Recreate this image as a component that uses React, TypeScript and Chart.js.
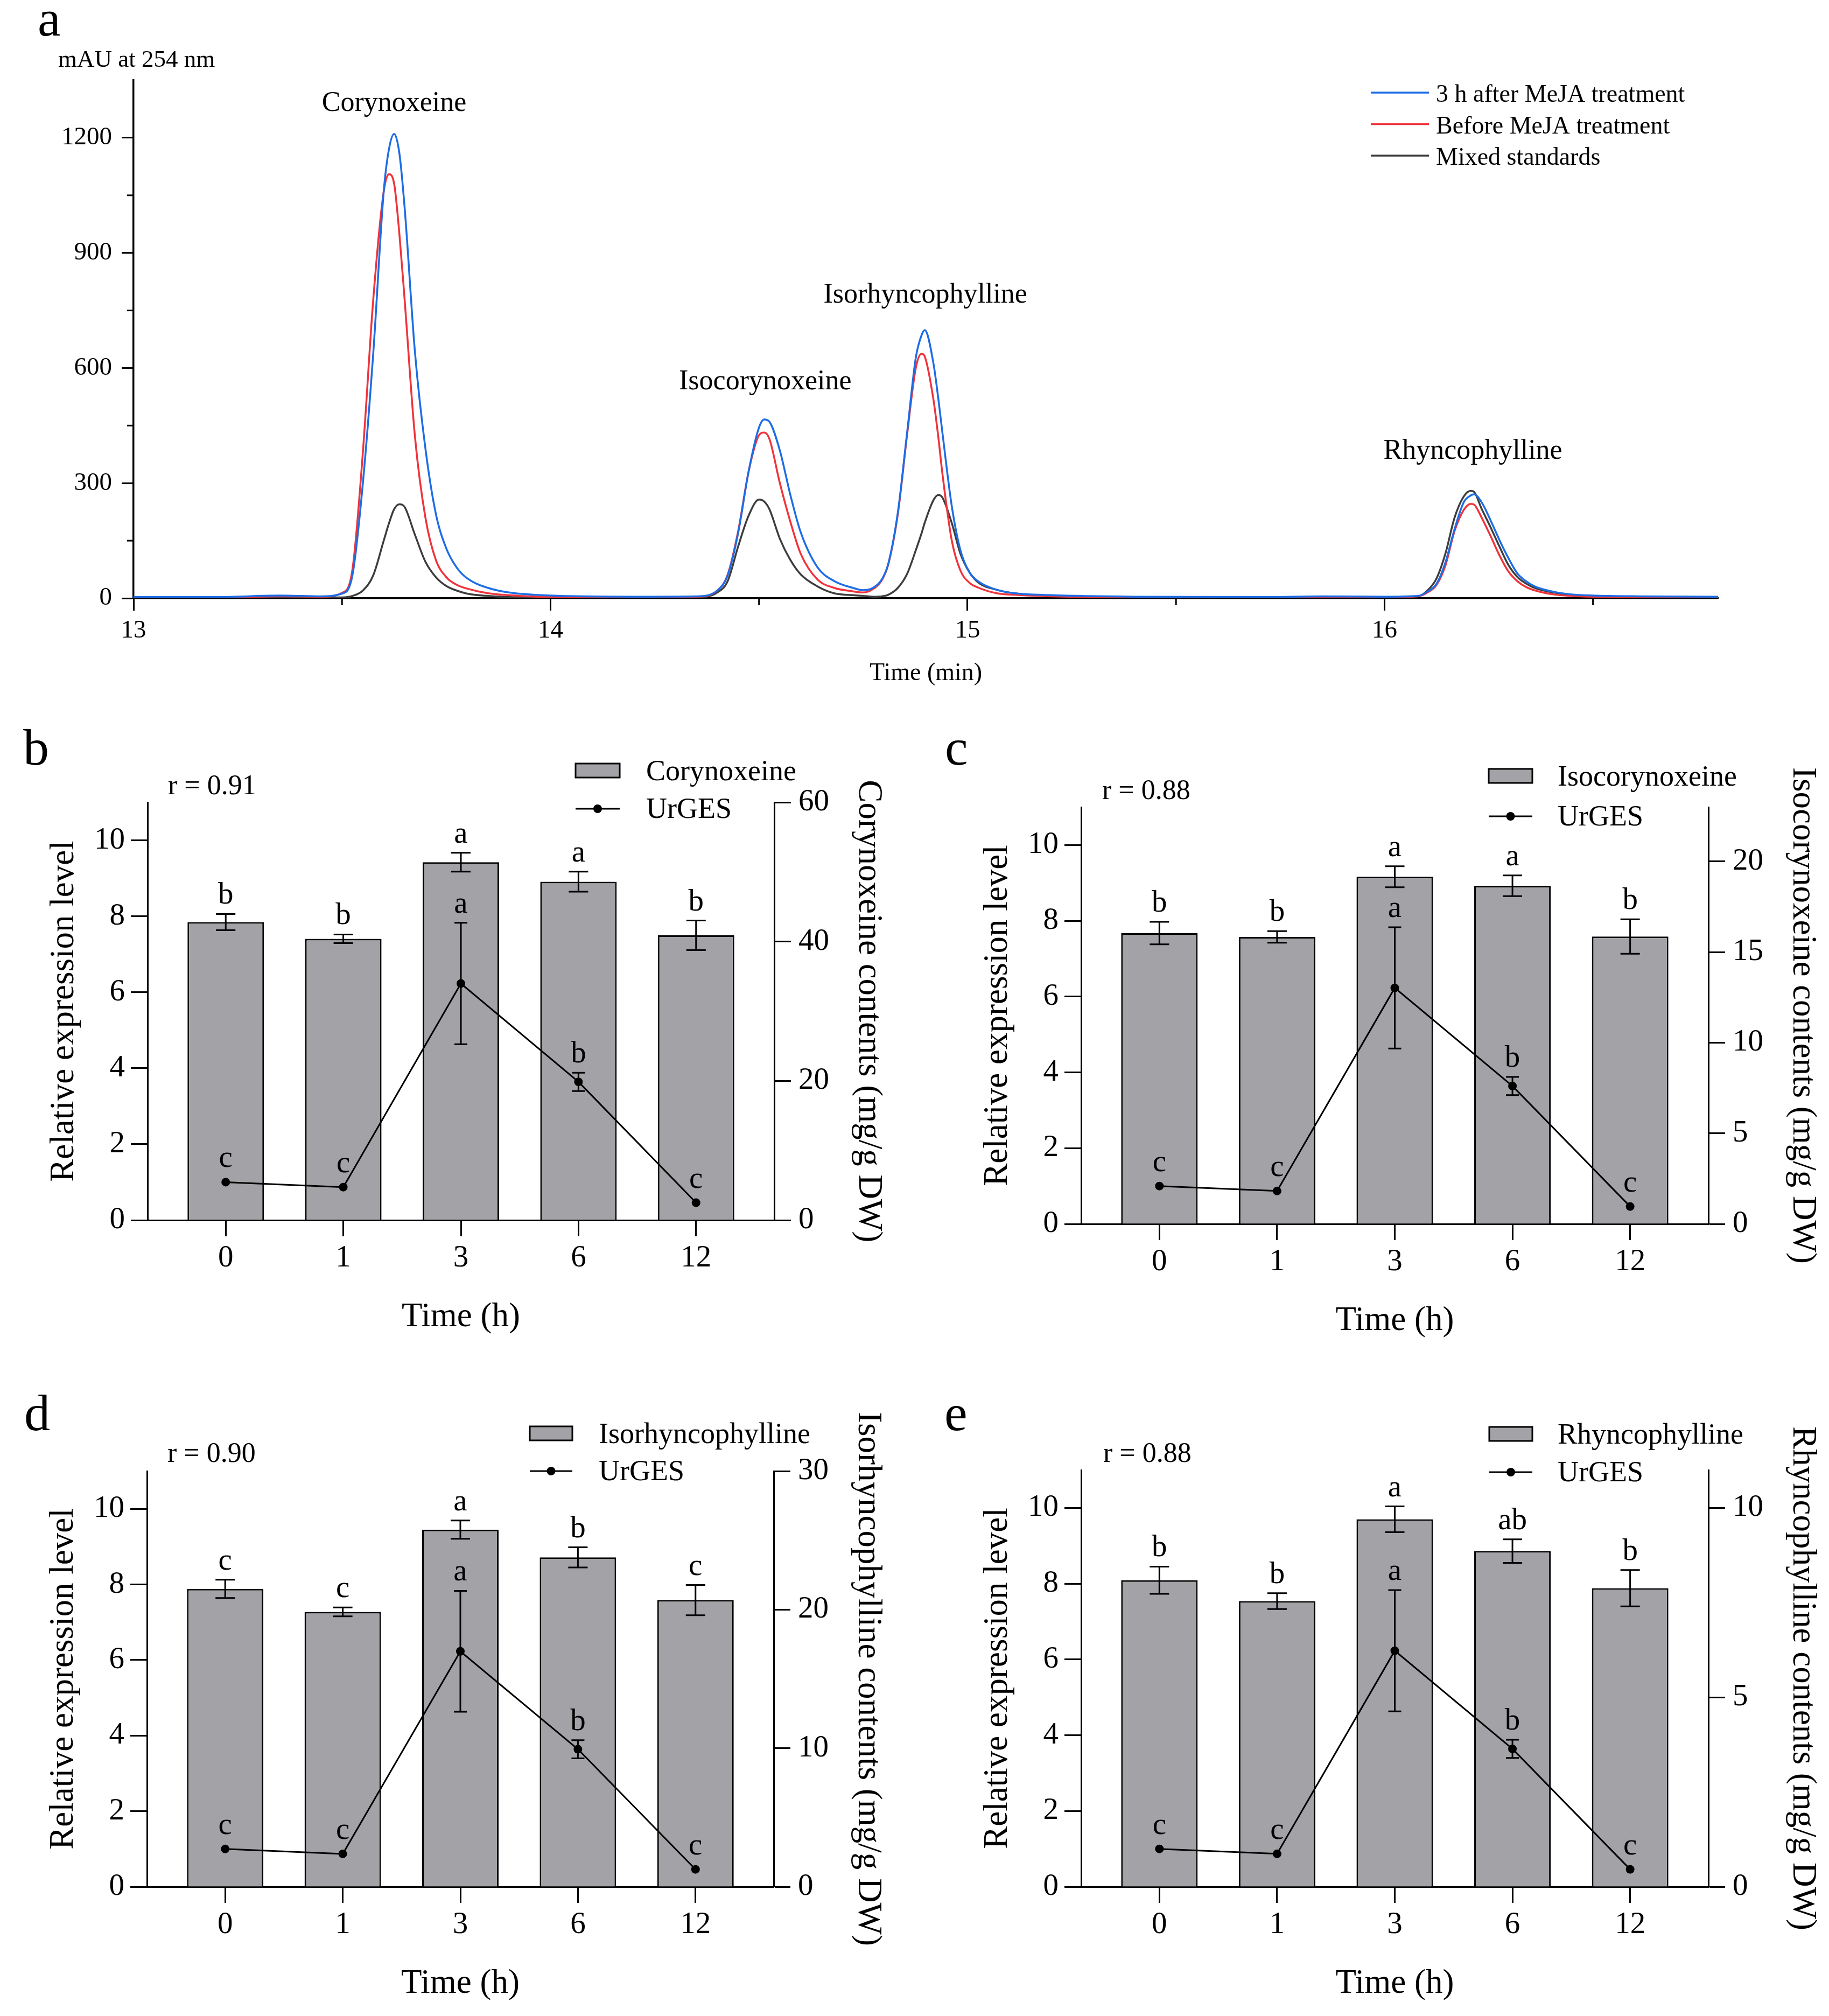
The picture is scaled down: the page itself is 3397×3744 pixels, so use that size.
import React, { useEffect, useRef } from 'react';
import { Chart, registerables } from 'chart.js';

Chart.register(...registerables);

const SERIF = '"Liberation Serif", "Times New Roman", Times, serif';
const INK = '#000000';

// ---------------- Panel a : HPLC chromatogram ----------------
const retentionTimes = [
  13.0, 13.2, 13.35, 13.45, 13.5, 13.525, 13.55, 13.575, 13.6, 13.6125,
  13.625, 13.6375, 13.65, 13.675, 13.7, 13.725, 13.75, 13.775, 13.8, 13.85,
  13.9, 14.0, 14.2, 14.35, 14.4, 14.425, 14.45, 14.475, 14.5, 14.5125,
  14.525, 14.55, 14.575, 14.6, 14.64, 14.68, 14.725, 14.75, 14.775, 14.795,
  14.81, 14.833, 14.855, 14.876, 14.89, 14.8975, 14.918, 14.93, 14.94, 14.962,
  14.983, 15.005, 15.027, 15.07, 15.113, 15.2, 15.4, 15.7, 15.85, 16.0,
  16.08, 16.103, 16.125, 16.146, 16.168, 16.19, 16.207, 16.215, 16.233, 16.254,
  16.276, 16.297, 16.319, 16.34, 16.362, 16.405, 16.448, 16.5, 16.62, 16.8,
];
const afterMeJA = [
  3, 3, 7, 5, 12, 60, 300, 640, 1060, 1170,
  1210, 1160, 1020, 640, 390, 220, 130, 80, 52, 27,
  15, 7, 4, 5, 20, 60, 170, 330, 445, 466,
  460, 385, 270, 172, 81, 45, 27, 21, 28, 50,
  90, 224, 430, 627, 686, 699, 614, 520, 430, 242,
  125, 67, 43, 22, 13, 8, 4, 3, 5, 4,
  6, 17, 38, 93, 180, 250, 268, 271, 250, 204,
  151, 105, 64, 44, 30, 17, 10, 7, 5, 4,
];
const beforeMeJA = [
  2, 2, 5, 4, 14, 75, 380, 780, 1060, 1105,
  1080, 950, 780, 420, 210, 100, 55, 35, 25, 13,
  8, 3, 2, 4, 20, 62, 175, 330, 425, 432,
  415, 300, 200, 116, 49, 27, 18, 15, 25, 48,
  88, 220, 425, 600, 637, 630, 520, 420, 323, 152,
  72, 40, 27, 13, 9, 5, 3, 2, 4, 3,
  5, 15, 35, 85, 175, 230, 246, 244, 210, 163,
  111, 70, 44, 29, 20, 10, 6, 4, 3, 3,
];
const mixedStandards = [
  1, 1, 3, 2, 2, 6, 20, 60, 150, 195,
  232, 245, 238, 165, 95, 55, 32, 20, 12, 6,
  3, 1, 1, 2, 15, 45, 135, 215, 257, 252,
  232, 155, 100, 62, 31, 13, 8, 6, 4, 5,
  9, 27, 63, 125, 170, 197, 255, 269, 262, 197,
  116, 67, 40, 22, 13, 6, 2, 2, 3, 3,
  5, 20, 52, 116, 210, 265, 280, 277, 233, 186,
  134, 87, 55, 38, 26, 15, 9, 6, 4, 3,
];
const traceNames = ['3 h after MeJA treatment', 'Before MeJA treatment', 'Mixed standards'];
const chromYTicks = [0, 300, 600, 900, 1200];
const chromYMinorTicks = [150, 450, 750, 1050];
const chromXTicks = [13, 14, 15, 16];
const chromXMinorTicks = [13.5, 14.5, 15.5, 16.5];
const peakNames = ['Corynoxeine', 'Isocorynoxeine', 'Isorhyncophylline', 'Rhyncophylline'];

// ---------------- Panels b–e : contents vs UrGES expression ----------------
const timePointLabels = ['0', '1', '3', '6', '12'];
const timeIndex = [0, 1, 2, 3, 4];
const urgesExpression = [1.0, 0.87, 6.23, 3.64, 0.46];
const urgesSD = [0, 0, 1.6, 0.24, 0];
const urgesLetters = ['c', 'c', 'a', 'b', 'c'];
const expressionTicks = [0, 2, 4, 6, 8, 10];

const corynoxeineContent = [42.8, 40.4, 51.4, 48.6, 40.9];
const corynoxeineSD = [1.16, 0.62, 1.36, 1.44, 2.12];
const corynoxeineLetters = ['b', 'b', 'a', 'a', 'b'];
const corynoxeineTicks = [0, 20, 40, 60];

const isocorynoxeineContent = [16.05, 15.84, 19.16, 18.66, 15.86];
const isocorynoxeineSD = [0.62, 0.32, 0.58, 0.57, 0.95];
const isocorynoxeineLetters = ['b', 'b', 'a', 'a', 'b'];
const isocorynoxeineTicks = [0, 5, 10, 15, 20];

const isorhyncophyllineContent = [21.5, 19.84, 25.77, 23.77, 20.69];
const isorhyncophyllineSD = [0.66, 0.32, 0.66, 0.73, 1.09];
const isorhyncophyllineLetters = ['c', 'c', 'a', 'b', 'c'];
const isorhyncophyllineTicks = [0, 10, 20, 30];

const rhyncophyllineContent = [8.09, 7.54, 9.7, 8.86, 7.88];
const rhyncophyllineSD = [0.36, 0.21, 0.34, 0.31, 0.48];
const rhyncophyllineLetters = ['b', 'b', 'a', 'ab', 'b'];
const rhyncophyllineTicks = [0, 5, 10];

// ---------------- styles ----------------
const traceColors = ['#1d6de6', '#f0333b', '#3d3d3d'];
const BAR_FILL = '#a2a2a7';

function font(size: number) {
  return { family: SERIF, size, lineHeight: 1.2, weight: 'normal' as const };
}

function chromatogramConfig(): any {
  const W = 3397;
  const H = 1330;
  const A = { left: 248, right: 3191, top: 149, bottom: 1111 };
  const series = [afterMeJA, beforeMeJA, mixedStandards];
  const labelAnchors = [
    { t: 13.625, v: 1270 },
    { t: 14.515, v: 545 },
    { t: 14.899, v: 770 },
    { t: 16.212, v: 364 },
  ];
  const overlay = {
    id: 'chromOverlay',
    afterDraw(chart: any) {
      const ctx = chart.ctx as CanvasRenderingContext2D;
      const xs = chart.scales.x;
      const ys = chart.scales.y;
      ctx.save();
      ctx.strokeStyle = INK;
      ctx.lineWidth = 3;
      ctx.lineCap = 'butt';
      chromYMinorTicks.forEach((v) => {
        const py = ys.getPixelForValue(v);
        ctx.beginPath();
        ctx.moveTo(A.left, py);
        ctx.lineTo(A.left - 12, py);
        ctx.stroke();
      });
      chromXMinorTicks.forEach((v) => {
        const px = xs.getPixelForValue(v);
        ctx.beginPath();
        ctx.moveTo(px, A.bottom);
        ctx.lineTo(px, A.bottom + 13);
        ctx.stroke();
      });
      ctx.fillStyle = INK;
      ctx.textBaseline = 'alphabetic';
      ctx.textAlign = 'center';
      ctx.font = `52px ${SERIF}`;
      peakNames.forEach((n, i) => {
        ctx.fillText(n, xs.getPixelForValue(labelAnchors[i].t), ys.getPixelForValue(labelAnchors[i].v));
      });
      ctx.textAlign = 'left';
      ctx.font = `46px ${SERIF}`;
      traceNames.forEach((n, i) => {
        const yy = 172 + i * 58.5;
        ctx.strokeStyle = traceColors[i];
        ctx.lineWidth = 3.5;
        ctx.beginPath();
        ctx.moveTo(2546, yy);
        ctx.lineTo(2654, yy);
        ctx.stroke();
        ctx.fillText(n, 2667, yy + 17);
      });
      ctx.font = `96px ${SERIF}`;
      ctx.fillText('a', 70, 66);
      ctx.font = `45px ${SERIF}`;
      ctx.fillText('mAU at 254 nm', 108, 124);
      ctx.restore();
    },
  };
  return {
    type: 'line',
    data: {
      datasets: series.map((s, k) => ({
        label: traceNames[k],
        data: retentionTimes.map((t, i) => ({ x: t, y: s[i] })),
        borderColor: traceColors[k],
        borderWidth: 3.5,
        pointRadius: 0,
        fill: false,
        cubicInterpolationMode: 'monotone',
      })),
    },
    options: {
      responsive: false,
      animation: false,
      devicePixelRatio: 1,
      layout: { padding: { left: 0, top: A.top, right: W - A.right, bottom: 0 } },
      plugins: { legend: { display: false }, tooltip: { enabled: false } },
      scales: {
        x: {
          type: 'linear',
          min: 13,
          max: 16.8,
          afterBuildTicks: (s: any) => {
            s.ticks = chromXTicks.map((v) => ({ value: v }));
          },
          afterFit: (s: any) => {
            s.height = H - A.bottom;
          },
          ticks: { font: font(47), color: INK, padding: 9, maxRotation: 0, autoSkip: false, callback: (v: any) => String(v) },
          grid: { drawOnChartArea: false, drawTicks: true, tickLength: 23, tickWidth: 3, tickColor: INK, color: INK },
          border: { display: true, color: INK, width: 3.5 },
          title: { display: true, text: 'Time (min)', font: font(46), color: INK, padding: { top: 0, bottom: 51 } },
        },
        y: {
          type: 'linear',
          min: 0,
          max: 1350,
          afterBuildTicks: (s: any) => {
            s.ticks = chromYTicks.map((v) => ({ value: v }));
          },
          afterFit: (s: any) => {
            s.width = A.left;
          },
          ticks: { font: font(47), color: INK, padding: 18, autoSkip: false, callback: (v: any) => String(v) },
          grid: { drawOnChartArea: false, drawTicks: true, tickLength: 22, tickWidth: 3, tickColor: INK, color: INK },
          border: { display: true, color: INK, width: 3.5 },
        },
      },
    },
    plugins: [overlay],
  };
}

type PanelSpec = {
  letter: string;
  compound: string;
  r: string;
  content: number[];
  sd: number[];
  letters: string[];
  rightTicks: number[];
  rightMax: number;
  box: { x: number; y: number; w: number; h: number };
  area: { left: number; right: number; top: number; bottom: number };
  labelAt: [number, number];
  rAt: [number, number];
  legend: { x1: number; x2: number; row1: number; row2: number; textX: number };
};

const panels: PanelSpec[] = [
  {
    letter: 'b', compound: 'Corynoxeine', r: '0.91',
    content: corynoxeineContent, sd: corynoxeineSD, letters: corynoxeineLetters,
    rightTicks: corynoxeineTicks, rightMax: 60,
    box: { x: 0, y: 1330, w: 1700, h: 1230 },
    area: { left: 274, right: 1438, top: 160, bottom: 936 },
    labelAt: [43, 90], rAt: [312, 145],
    legend: { x1: 1069, x2: 1151, row1: 101, row2: 172, textX: 1200 },
  },
  {
    letter: 'c', compound: 'Isocorynoxeine', r: '0.88',
    content: isocorynoxeineContent, sd: isocorynoxeineSD, letters: isocorynoxeineLetters,
    rightTicks: isocorynoxeineTicks, rightMax: 23,
    box: { x: 1700, y: 1330, w: 1697, h: 1230 },
    area: { left: 308, right: 1473, top: 169, bottom: 943 },
    labelAt: [55, 90], rAt: [347, 154],
    legend: { x1: 1065, x2: 1146, row1: 111, row2: 186, textX: 1193 },
  },
  {
    letter: 'd', compound: 'Isorhyncophylline', r: '0.90',
    content: isorhyncophyllineContent, sd: isorhyncophyllineSD, letters: isorhyncophyllineLetters,
    rightTicks: isorhyncophyllineTicks, rightMax: 30,
    box: { x: 0, y: 2560, w: 1700, h: 1184 },
    area: { left: 273, right: 1437, top: 172, bottom: 944 },
    labelAt: [45, 96], rAt: [311, 155],
    legend: { x1: 984, x2: 1063, row1: 102, row2: 172, textX: 1112 },
  },
  {
    letter: 'e', compound: 'Rhyncophylline', r: '0.88',
    content: rhyncophyllineContent, sd: rhyncophyllineSD, letters: rhyncophyllineLetters,
    rightTicks: rhyncophyllineTicks, rightMax: 11,
    box: { x: 1700, y: 2560, w: 1697, h: 1184 },
    area: { left: 308, right: 1473, top: 170, bottom: 944 },
    labelAt: [54, 96], rAt: [349, 155],
    legend: { x1: 1066, x2: 1146, row1: 103, row2: 174, textX: 1193 },
  },
];

function barPanelConfig(p: PanelSpec): any {
  const W = p.box.w;
  const H = p.box.h;
  const A = p.area;
  const halfTitle = (63 * 1.2) / 2;

  const drawErrors = (
    chart: any,
    dsIndex: number,
    axisId: string,
    values: number[],
    sd: number[],
    letters: string[],
    capHalf: number,
  ) => {
    const ctx = chart.ctx as CanvasRenderingContext2D;
    const meta = chart.getDatasetMeta(dsIndex);
    const scale = chart.scales[axisId];
    meta.data.forEach((el: any, i: number) => {
      const x = el.x;
      const v = values[i];
      const e = sd[i];
      const yTop = scale.getPixelForValue(v + e);
      const yBot = scale.getPixelForValue(v - e);
      if (e > 0) {
        ctx.beginPath();
        ctx.moveTo(x, yTop);
        ctx.lineTo(x, yBot);
        ctx.moveTo(x - capHalf, yTop);
        ctx.lineTo(x + capHalf, yTop);
        ctx.moveTo(x - capHalf, yBot);
        ctx.lineTo(x + capHalf, yBot);
        ctx.stroke();
      }
      const baseY = e > 0 ? yTop - 19 : scale.getPixelForValue(v) - 28;
      ctx.fillText(letters[i], x, baseY);
    });
  };

  const overlay = {
    id: 'panelOverlay',
    afterDatasetsDraw(chart: any) {
      const ctx = chart.ctx as CanvasRenderingContext2D;
      ctx.save();
      ctx.strokeStyle = INK;
      ctx.fillStyle = INK;
      ctx.lineWidth = 3;
      ctx.lineCap = 'butt';
      ctx.font = `57px ${SERIF}`;
      ctx.textAlign = 'center';
      ctx.textBaseline = 'alphabetic';
      drawErrors(chart, 1, 'yR', p.content, p.sd, p.letters, 18);
      drawErrors(chart, 0, 'y', urgesExpression, urgesSD, urgesLetters, 12);
      ctx.restore();
    },
    afterDraw(chart: any) {
      const ctx = chart.ctx as CanvasRenderingContext2D;
      const L = p.legend;
      ctx.save();
      ctx.fillStyle = INK;
      ctx.textAlign = 'left';
      ctx.textBaseline = 'alphabetic';
      ctx.font = `96px ${SERIF}`;
      ctx.fillText(p.letter, p.labelAt[0], p.labelAt[1]);
      ctx.font = `52px ${SERIF}`;
      ctx.fillText(`r = ${p.r}`, p.rAt[0], p.rAt[1]);
      // legend: bars
      ctx.fillStyle = BAR_FILL;
      ctx.fillRect(L.x1, L.row1 - 13, L.x2 - L.x1, 26);
      ctx.strokeStyle = INK;
      ctx.lineWidth = 3;
      ctx.strokeRect(L.x1, L.row1 - 13, L.x2 - L.x1, 26);
      // legend: line
      ctx.beginPath();
      ctx.moveTo(L.x1, L.row2);
      ctx.lineTo(L.x2, L.row2);
      ctx.stroke();
      ctx.fillStyle = INK;
      ctx.beginPath();
      ctx.arc((L.x1 + L.x2) / 2, L.row2, 8, 0, Math.PI * 2);
      ctx.fill();
      ctx.font = `54px ${SERIF}`;
      ctx.fillText(p.compound, L.textX, L.row1 + 18);
      ctx.fillText('UrGES', L.textX, L.row2 + 17);
      ctx.restore();
    },
  };

  const axisCommon = {
    grid: { drawOnChartArea: false, drawTicks: true, tickLength: 31, tickWidth: 3, tickColor: INK, color: INK, offset: false },
    border: { display: true, color: INK, width: 3 },
  };

  return {
    type: 'bar',
    data: {
      datasets: [
        {
          type: 'line',
          label: 'UrGES',
          data: timeIndex.map((x, i) => ({ x, y: urgesExpression[i] })),
          yAxisID: 'y',
          borderColor: INK,
          borderWidth: 3,
          pointRadius: 8,
          pointBackgroundColor: INK,
          pointBorderWidth: 0,
          tension: 0,
          order: 1,
        },
        {
          type: 'bar',
          label: p.compound,
          data: timeIndex.map((x, i) => ({ x, y: p.content[i] })),
          yAxisID: 'yR',
          backgroundColor: BAR_FILL,
          borderColor: INK,
          borderWidth: 3,
          categoryPercentage: 1,
          barPercentage: 0.65,
          order: 2,
        },
      ],
    },
    options: {
      responsive: false,
      animation: false,
      devicePixelRatio: 1,
      layout: { padding: { left: 0, right: 0, bottom: 0, top: A.top } },
      plugins: { legend: { display: false }, tooltip: { enabled: false } },
      scales: {
        x: {
          type: 'linear',
          min: -0.665,
          max: 4.665,
          offset: false,
          afterBuildTicks: (s: any) => {
            s.ticks = timeIndex.map((v) => ({ value: v }));
          },
          afterFit: (s: any) => {
            s.height = H - A.bottom;
          },
          ticks: {
            font: font(57), color: INK, padding: 7, maxRotation: 0, autoSkip: false,
            callback: (v: any) => timePointLabels[v] ?? '',
          },
          grid: { ...axisCommon.grid, tickLength: 30 },
          border: axisCommon.border,
          title: {
            display: true, text: 'Time (h)', font: font(63), color: INK,
            padding: { top: 0, bottom: H - (A.bottom + 180) - halfTitle },
          },
        },
        y: {
          type: 'linear',
          position: 'left',
          min: 0,
          max: 11,
          afterBuildTicks: (s: any) => {
            s.ticks = expressionTicks.map((v) => ({ value: v }));
          },
          afterFit: (s: any) => {
            s.width = A.left;
          },
          ticks: { font: font(57), color: INK, padding: 11, autoSkip: false, callback: (v: any) => String(v) },
          grid: axisCommon.grid,
          border: axisCommon.border,
          title: {
            display: true, text: 'Relative expression level', font: font(63), color: INK,
            padding: { top: A.left - 155 - halfTitle, bottom: 0 },
          },
        },
        yR: {
          type: 'linear',
          position: 'right',
          min: 0,
          max: p.rightMax,
          afterBuildTicks: (s: any) => {
            s.ticks = p.rightTicks.map((v) => ({ value: v }));
          },
          afterFit: (s: any) => {
            s.width = W - A.right;
          },
          ticks: { font: font(57), color: INK, padding: 14, autoSkip: false, callback: (v: any) => String(v) },
          grid: axisCommon.grid,
          border: axisCommon.border,
          title: {
            display: true, text: `${p.compound} contents (mg/g DW)`, font: font(63), color: INK,
            padding: { top: W - (A.right + 175) - halfTitle, bottom: 0 },
          },
        },
      },
    },
    plugins: [overlay],
  };
}

function ChartCanvas(props: { make: () => any; x: number; y: number; w: number; h: number }) {
  const ref = useRef<HTMLCanvasElement | null>(null);
  useEffect(() => {
    if (!ref.current) return;
    const chart = new Chart(ref.current, props.make());
    return () => chart.destroy();
  }, []);
  return (
    <canvas
      ref={ref}
      width={props.w}
      height={props.h}
      style={{ position: 'absolute', left: props.x, top: props.y, width: props.w, height: props.h }}
    />
  );
}

export default function App() {
  return (
    <div
      style={{
        position: 'absolute', left: 0, top: 0, width: 3397, height: 3744,
        background: '#ffffff', overflow: 'hidden',
      }}
    >
      <ChartCanvas make={chromatogramConfig} x={0} y={0} w={3397} h={1330} />
      {panels.map((p) => (
        <ChartCanvas key={p.letter} make={() => barPanelConfig(p)} x={p.box.x} y={p.box.y} w={p.box.w} h={p.box.h} />
      ))}
    </div>
  );
}
